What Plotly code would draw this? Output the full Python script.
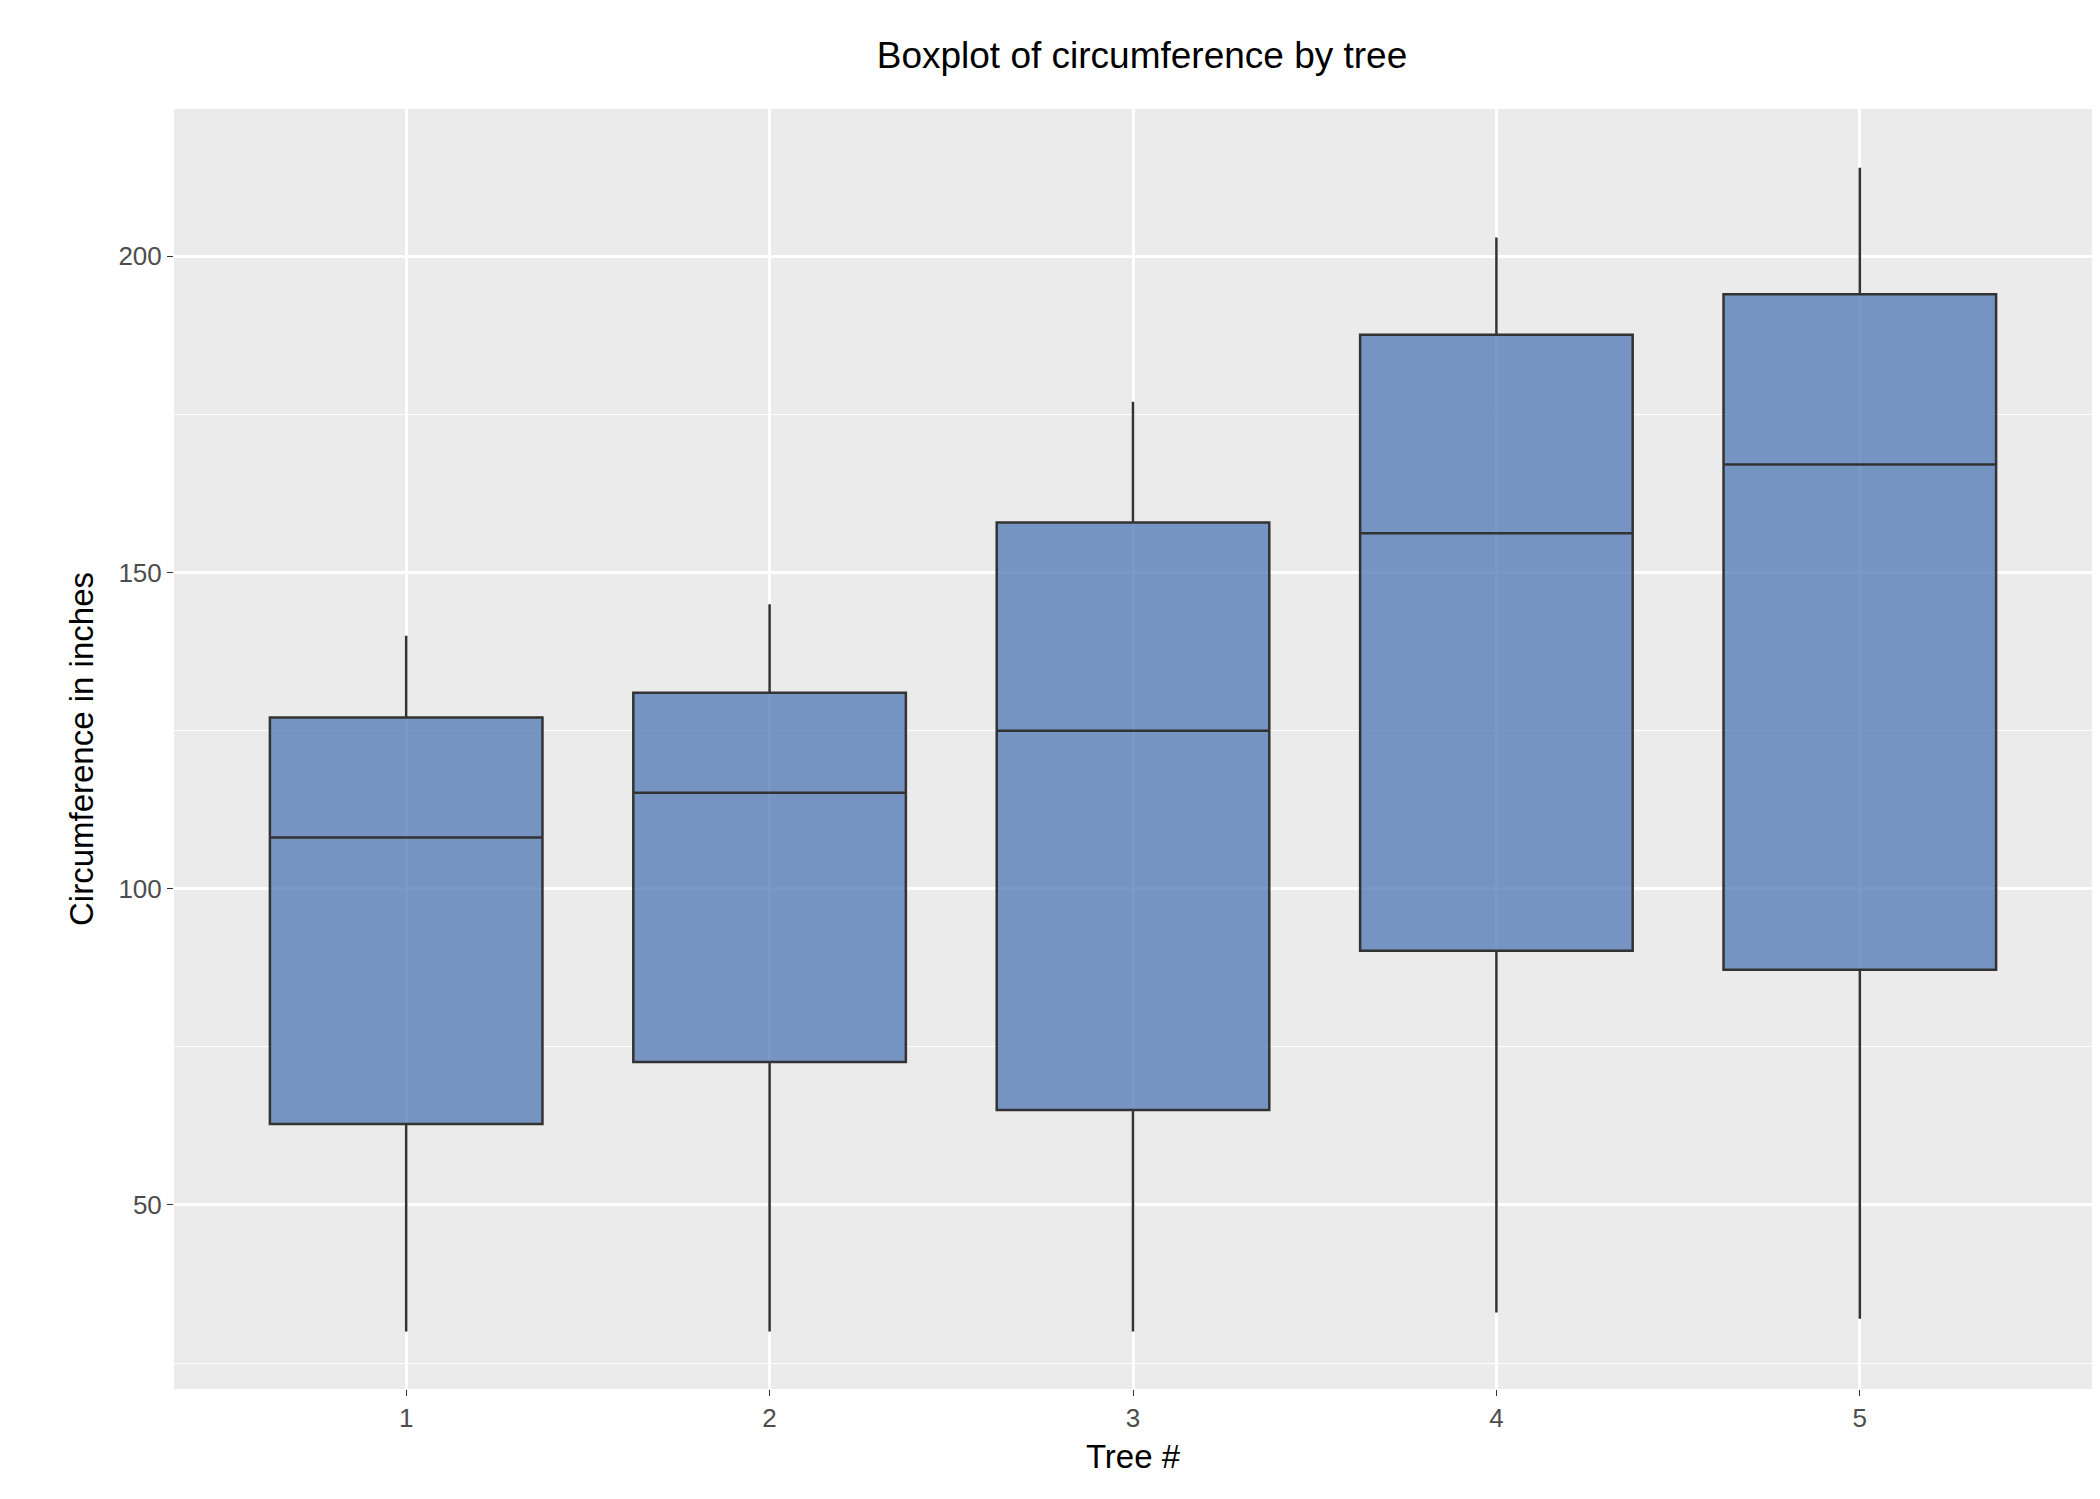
import plotly.graph_objects as go

# values
trees = ["1", "2", "3", "4", "5"]
lower = [30, 30, 30, 33, 32]
q1 = [62.8, 72.6, 65, 90.2, 87.2]
median = [108.1, 115.2, 125, 156.2, 167.1]
q3 = [127.1, 131, 157.9, 187.6, 194]
upper = [140, 145, 177, 203, 214]

fig = go.Figure(go.Box(
    x=trees, q1=q1, median=median, q3=q3,
    lowerfence=lower, upperfence=upper,
    fillcolor="rgba(70,114,178,0.72)",
    line=dict(color="#333333", width=2.5),
    width=0.75, whiskerwidth=0, boxpoints=False,
    showlegend=False, hoverinfo="y",
))

fig.update_layout(
    width=2100, height=1499,
    margin=dict(l=166, r=16, t=101, b=118),
    paper_bgcolor="white", plot_bgcolor="#EBEBEB",
    font=dict(family="Liberation Sans, Arial", color="black"),
    title=dict(text="Boxplot of circumference by tree", x=0.54, xanchor="center",
               y=0.977, yanchor="top", font=dict(size=37)),
    xaxis=dict(title=dict(text="Tree #", font=dict(size=33), standoff=12),
               tickfont=dict(size=26, color="#4D4D4D"),
               gridcolor="white", gridwidth=2.5, ticks="outside",
               ticklen=6, tickcolor="#333333", zeroline=False),
    yaxis=dict(title=dict(text="Circumference in inches", font=dict(size=33), standoff=14),
               range=[20.9, 223.3], tickvals=[50, 100, 150, 200],
               tickfont=dict(size=26, color="#4D4D4D"),
               gridcolor="white", gridwidth=2.5, ticks="outside",
               ticklen=6, tickcolor="#333333", zeroline=False,
               minor=dict(tickvals=[25, 75, 125, 175], showgrid=True,
                          gridcolor="white", gridwidth=1.2)),
)

fig.write_html("out.html")
